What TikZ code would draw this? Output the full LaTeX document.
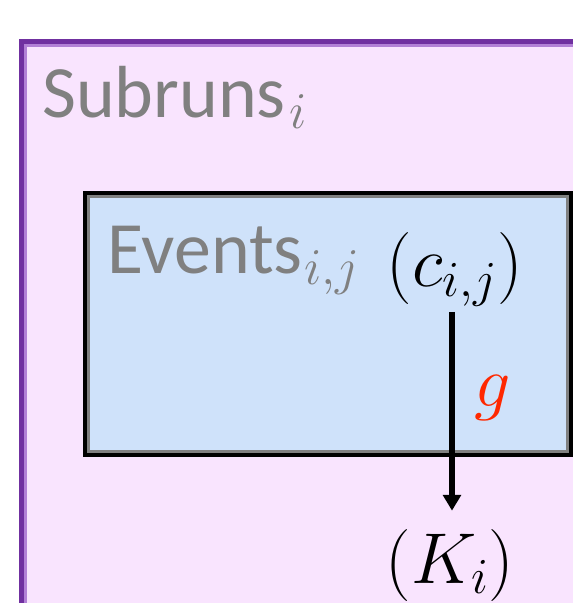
\RequirePackage{fix-cm}
\documentclass[tikz,border=0pt]{standalone}
\usepackage{fontspec}
\newfontfamily\labelfont{Carlito}
\usetikzlibrary{arrows.meta}
\definecolor{subrunfill}{RGB}{249,228,254}
\definecolor{subrunline}{RGB}{112,48,160}
\definecolor{subrunedge}{RGB}{178,128,214}
\definecolor{eventfill}{RGB}{207,226,250}
\definecolor{labelgray}{RGB}{128,128,128}
\definecolor{gred}{RGB}{255,40,0}
\begin{document}
\begin{tikzpicture}[x=0.02cm,y=-0.02cm,
  setlabel/.style={font=\labelfont\fontsize{42}{48}\selectfont,text=labelgray,inner sep=0pt,anchor=base west},
  mathlabel/.style={font=\fontsize{41}{48}\selectfont,inner sep=0pt}]
\useasboundingbox (0,0) rectangle (573,603);
\clip (0,0) rectangle (573,603);

% subruns box
\fill[subrunfill] (22,42) rectangle (640,660);
\draw[subrunline,line width=2.5pt] (21.5,41.5) rectangle (640,660);
\draw[subrunedge,line width=1.6pt] (25.5,45.5) rectangle (637,657);

% events box
\fill[eventfill] (85,193) rectangle (571,455);
\draw[gray,line width=1.2pt] (88.5,196.5) rectangle (567.5,451.5);
\draw[black,line width=2.2pt] (85,193) rectangle (571,455);

\node[setlabel] (subruns) at (42,117) {Subruns\kern2pt$_{i}$};
\node[setlabel] (events) at (107,273) {Events\kern1pt$_{i,j}$};

\node[mathlabel,anchor=base] (cij) at (455,286) {$(c_{i,j})$};
\node[mathlabel,anchor=base] (Ki) at (450,583) {$(K_i)$};

\draw[-{Triangle[length=9pt,width=10pt]},line width=3pt,shorten <=0.1cm,shorten >=0.36cm]
  (cij.south -| 452,0) -- (Ki.north -| 452,0);
\node[mathlabel,text=gred] (g) at (493,398) {$g$};
\end{tikzpicture}
\end{document}
